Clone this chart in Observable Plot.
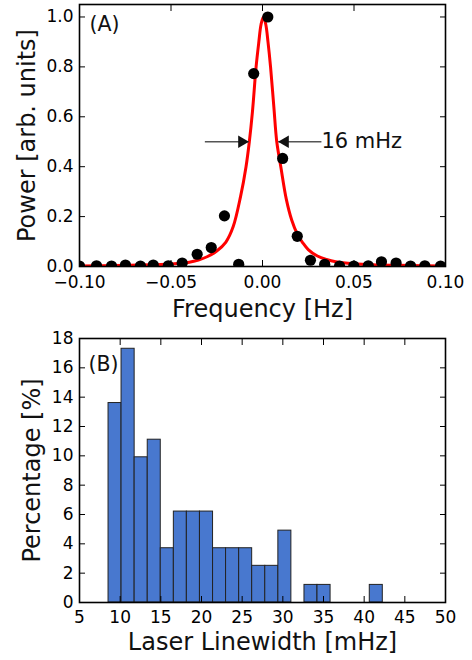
<!DOCTYPE html>
<html><head><meta charset="utf-8">
<script src="https://cdn.jsdelivr.net/npm/d3@7"></script>
<script src="https://cdn.jsdelivr.net/npm/@observablehq/plot@0.6"></script>
<style>
body{margin:0;background:#fff;}
#chart{width:472px;}
#chart svg{display:block;}
</style></head><body><div id="chart"></div>
<script>
// Panel (A): measured spectrum points
const freq = [-0.1000,-0.0907,-0.0825,-0.0749,-0.0667,-0.0597,-0.0515,-0.0439,-0.0357,-0.0280,-0.0208,-0.0130,-0.0048,0.0029,0.0110,0.0190,0.0262,0.0340,0.0421,0.0499,0.0578,0.0650,0.0730,0.0809,0.0887,0.0973];
const power = [0.002,0.003,0.002,0.006,0.002,0.006,0.003,0.014,0.049,0.076,0.203,0.009,0.773,1.000,0.433,0.121,0.025,0.009,0.002,0.002,0.003,0.019,0.014,0.002,0.003,0.002];
// Panel (A): fitted curve
const fitFreq = [-0.100,-0.080,-0.060,-0.050,-0.040,-0.035,-0.030,-0.025,-0.020,-0.016,-0.012,-0.009,-0.0072,-0.0055,-0.0035,-0.002,-0.0008,0.0005,0.0018,0.003,0.0044,0.0062,0.0078,0.010,0.013,0.016,0.019,0.022,0.025,0.030,0.035,0.040,0.050,0.060,0.080,0.100];
const fitPower = [0.002,0.004,0.007,0.010,0.017,0.026,0.040,0.062,0.098,0.160,0.280,0.400,0.500,0.620,0.800,0.900,0.970,1.000,0.970,0.900,0.800,0.640,0.500,0.400,0.270,0.185,0.130,0.095,0.068,0.042,0.028,0.019,0.011,0.007,0.004,0.002];
// Panel (A): FWHM annotation
const fwhmArrows = [{from:-0.0315, to:-0.0075, at:0.5}, {from:0.0322, to:0.0086, at:0.5}];
const fwhmText = [{label:"16 mHz", x:0.0322, y:0.5}];
const xTicksA = [-0.10,-0.05,0,0.05,0.10];
const yTicksA = [0,0.2,0.4,0.6,0.8,1.0];

// Panel (B): histogram
const binEdges = [8.57,10.17,11.78,13.39,14.99,16.60,18.20,19.81,21.42,23.02,24.63,26.23,27.84,29.45,31.05,32.66,34.26,35.87,37.48,39.08,40.69,42.29];
const percent = [13.6,17.3,9.9,11.1,3.7,6.2,6.2,6.2,3.7,3.7,3.7,2.5,2.5,4.9,0,1.2,1.2,0,0,0,1.2];
const xTicksB = [5,10,15,20,25,30,35,40,45,50];
const yTicksB = [0,2,4,6,8,10,12,14,16,18];

const FONT = "'DejaVu Sans', sans-serif";
const TS = -6; // inward ticks

function frameAxes(xTicks, yTicks, xFmt, yFmt, xGap) {
  return [
    Plot.axisX({ticks: xTicks, anchor:"bottom", tickSize: TS, tickPadding: xGap - TS, tickFormat: xFmt, label: null}),
    Plot.axisX({ticks: xTicks, anchor:"top", tickSize: TS, tickFormat: () => "", label: null}),
    Plot.axisY({ticks: yTicks, anchor:"left", tickSize: TS, tickPadding: 6 - TS, tickFormat: yFmt, label: null}),
    Plot.axisY({ticks: yTicks, anchor:"right", tickSize: TS, tickFormat: () => "", label: null}),
    Plot.frame({stroke:"#000", strokeWidth:1.6})
  ];
}

const points = freq.map((f, i) => ({f, p: power[i]}));
const fit = fitFreq.map((f, i) => ({f, p: fitPower[i]}));

const plotA = Plot.plot({
  width: 472, height: 325,
  marginTop: 4, marginBottom: 59, marginLeft: 79, marginRight: 27,
  style: {fontFamily: FONT, fontSize: "17px", background: "#fff", color: "#000", overflow: "visible"},
  x: {domain: [-0.1, 0.1]},
  y: {domain: [0, 1.05]},
  marks: [
    Plot.line(fit, {x: "f", y: "p", stroke: "#ff0000", strokeWidth: 3, curve: "catmull-rom", clip: true}),
    Plot.link(fwhmArrows, {x1: "from", x2: "to", y1: "at", y2: "at", stroke: "#555", strokeWidth: 1.5}),
    Plot.dot(fwhmArrows.filter(d => d.to > d.from), {x: "to", y: "at", symbol: "triangle", r: 4.6, fill: "#111", stroke: "none", rotate: 90, dx: -7}),
    Plot.dot(fwhmArrows.filter(d => d.to < d.from), {x: "to", y: "at", symbol: "triangle", r: 4.6, fill: "#111", stroke: "none", rotate: -90, dx: 7}),
    Plot.text(fwhmText, {x: "x", y: "y", text: "label", textAnchor: "start", lineAnchor: "middle", fontSize: 21, fill: "#111"}),
    Plot.dot(points, {x: "f", y: "p", r: 5.6, fill: "#000", stroke: "none", clip: true}),
    Plot.text(["(A)"], {frameAnchor: "top-left", dx: 10, dy: 12, textAnchor: "start", lineAnchor: "top", fontSize: 20.5, fill: "#111"}),
    Plot.text(["Frequency [Hz]"], {frameAnchor: "bottom", dy: 50, textAnchor: "middle", lineAnchor: "bottom", fontSize: 24, fill: "#111"}),
    Plot.text(["Power [arb. units]"], {frameAnchor: "left", dx: -52, rotate: -90, textAnchor: "middle", lineAnchor: "middle", fontSize: 24, fill: "#111"}),
    ...frameAxes(xTicksA, yTicksA, d3.format(".2f"), d3.format(".1f"), 9)
  ]
});

const bars = percent.map((p, i) => ({x1: binEdges[i], x2: binEdges[i + 1], p})).filter(d => d.p > 0);

const plotB = Plot.plot({
  width: 472, height: 335,
  marginTop: 13, marginBottom: 58, marginLeft: 79, marginRight: 27,
  style: {fontFamily: FONT, fontSize: "17px", background: "#fff", color: "#000", overflow: "visible"},
  x: {domain: [5, 50]},
  y: {domain: [0, 18]},
  marks: [
    Plot.rectY(bars, {x1: "x1", x2: "x2", y: "p", fill: "#4878cf", stroke: "#222", strokeWidth: 1}),
    Plot.text(["(B)"], {frameAnchor: "top-left", dx: 9, dy: 18, textAnchor: "start", lineAnchor: "top", fontSize: 20.5, fill: "#111"}),
    Plot.text(["Laser Linewidth [mHz]"], {frameAnchor: "bottom", dy: 47, textAnchor: "middle", lineAnchor: "bottom", fontSize: 24, fill: "#111"}),
    Plot.text(["Percentage [%]"], {frameAnchor: "left", dx: -47, rotate: -90, textAnchor: "middle", lineAnchor: "middle", fontSize: 24, fill: "#111"}),
    ...frameAxes(xTicksB, yTicksB, d3.format("d"), d3.format("d"), 8)
  ]
});

document.getElementById("chart").append(plotA, plotB);
</script>
</body></html>
